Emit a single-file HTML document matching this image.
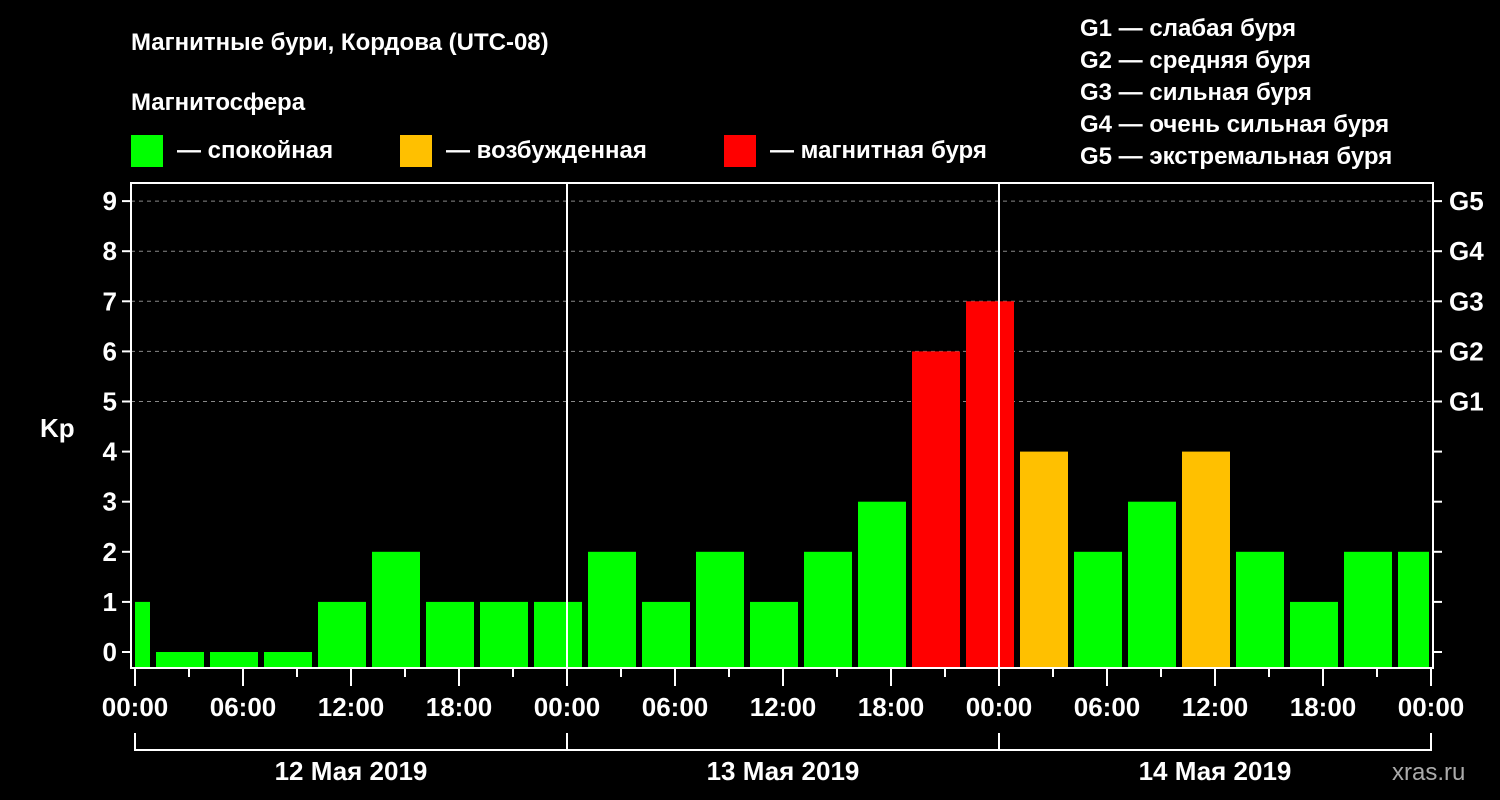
<!DOCTYPE html>
<html><head><meta charset="utf-8"><style>
html,body{margin:0;padding:0;background:#000;}
svg{display:block;font-family:"Liberation Sans",sans-serif;font-weight:bold;}
</style></head><body>
<svg id="chart" width="1500" height="800" viewBox="0 0 1500 800">
<rect width="1500" height="800" fill="#000"/>
<text x="131" y="50" fill="#fff" font-size="24">Магнитные бури, Кордова (UTC-08)</text>
<text x="131" y="110" fill="#fff" font-size="24">Магнитосфера</text>
<g><rect x="131" y="135" width="32" height="32" fill="#00ff00"/><text x="177" y="158" fill="#fff" font-size="24">— спокойная</text></g>
<g><rect x="400" y="135" width="32" height="32" fill="#ffc000"/><text x="446" y="158" fill="#fff" font-size="24">— возбужденная</text></g>
<g><rect x="724" y="135" width="32" height="32" fill="#ff0000"/><text x="770" y="158" fill="#fff" font-size="24">— магнитная буря</text></g>
<g fill="#fff" font-size="24">
<text x="1080" y="36">G1 — слабая буря</text>
<text x="1080" y="68">G2 — средняя буря</text>
<text x="1080" y="100">G3 — сильная буря</text>
<text x="1080" y="132">G4 — очень сильная буря</text>
<text x="1080" y="164">G5 — экстремальная буря</text>
</g>
<text x="40" y="437" fill="#fff" font-size="26">Kp</text>
<g id="grid"></g><g id="bars"></g><g id="axes"></g>
<text x="1392" y="780" fill="#aaa" font-size="24" font-weight="normal">xras.ru</text>
</svg>
<script>
const kpValues=[1,0,0,0,1,2,1,1,1,2,1,2,1,2,3,6,7,4,2,3,4,2,1,2,2];
const barStartHour=-11/6;
const yTicks=[0,1,2,3,4,5,6,7,8,9];
const gLabels=["G1","G2","G3","G4","G5"];
const xTickLabels=["00:00","06:00","12:00","18:00","00:00","06:00","12:00","18:00","00:00","06:00","12:00","18:00","00:00"];
const dayLabels=["12 Мая 2019","13 Мая 2019","14 Мая 2019"];
const NS="http://www.w3.org/2000/svg";
const L=131,R=1433,T=183,B=668;
const x=h=>135+h*18;
const y=v=>652-v*50.1;
function mk(tag,attrs,parent,text){const e=document.createElementNS(NS,tag);for(const k in attrs)e.setAttribute(k,attrs[k]);if(text!==undefined)e.textContent=text;parent.appendChild(e);return e;}
const grid=document.getElementById('grid'),bars=document.getElementById('bars'),axes=document.getElementById('axes');
mk('rect',{x:L,y:T,width:R-L,height:B-T,fill:'#000'},grid);
yTicks.forEach(v=>{if(v>=5){const g=mk('line',{x1:L,x2:R,y1:y(v),y2:y(v),stroke:'#888','stroke-dasharray':'4,4'},grid);

}});
kpValues.forEach((v,i)=>{const h0=barStartHour+3*i;let x0=x(h0),x1=x0+48;x0=Math.max(x0,L+4);x1=Math.min(x1,R-4);
const c=v>=5?'#ff0000':(v>=4?'#ffc000':'#00ff00');
const r=mk('rect',{x:x0,y:y(v),width:x1-x0,height:B-y(v),fill:c},bars);

});
[24,48].forEach(h=>{const l=mk('line',{x1:x(h),x2:x(h),y1:T,y2:B,stroke:'#fff','stroke-width':2},axes);

});
const fr=mk('rect',{x:L,y:T,width:R-L,height:B-T,fill:'none',stroke:'#fff','stroke-width':2},axes);


yTicks.forEach(v=>{mk('line',{x1:L-9,x2:L,y1:y(v),y2:y(v),stroke:'#fff','stroke-width':2},axes);
mk('line',{x1:R,x2:R+9,y1:y(v),y2:y(v),stroke:'#fff','stroke-width':2},axes);
const t=mk('text',{x:L-14,y:y(v)+9,fill:'#fff','font-size':26,'text-anchor':'end'},axes,String(v));

});
gLabels.forEach((g,i)=>{const t=mk('text',{x:1449,y:y(5+i)+9,fill:'#fff','font-size':26},axes,g);

});
for(let h=0;h<=72;h+=3){const major=h%6===0;mk('line',{x1:x(h),x2:x(h),y1:B,y2:major?686:677,stroke:'#fff','stroke-width':2},axes);}
xTickLabels.forEach((s,i)=>{const t=mk('text',{x:x(i*6),y:716,fill:'#fff','font-size':26,'text-anchor':'middle'},axes,s);

});
mk('path',{d:`M${x(0)} 733V750H${x(72)}V733M${x(24)} 733V750M${x(48)} 733V750`,stroke:'#fff','stroke-width':2,fill:'none'},axes);
dayLabels.forEach((s,i)=>{const t=mk('text',{x:x(i*24+12),y:780,fill:'#fff','font-size':26,'text-anchor':'middle'},axes,s);

});
</script>
</body></html>
